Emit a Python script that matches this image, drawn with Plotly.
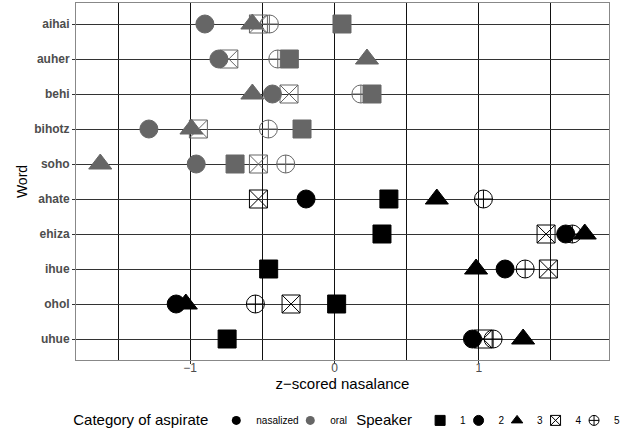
import plotly.graph_objects as go

words = ["aihai", "auher", "behi", "bihotz", "soho", "ahate", "ehiza", "ihue", "ohol", "uhue"]
category = ["oral"] * 5 + ["nasalized"] * 5
speaker1 = [0.052, -0.313, 0.260, -0.225, -0.689, 0.377, 0.329, -0.456, 0.015, -0.744]
speaker2 = [-0.898, -0.801, -0.430, -1.286, -0.958, -0.197, 1.602, 1.182, -1.097, 0.956]
speaker3 = [-0.569, 0.225, -0.569, -0.991, -1.623, 0.709, 1.734, 0.981, -1.030, 1.307]
speaker4 = [-0.527, -0.732, -0.315, -0.943, -0.527, -0.527, 1.466, 1.482, -0.301, 1.030]
speaker5 = [-0.451, -0.393, 0.183, -0.458, -0.338, 1.032, 1.648, 1.321, -0.548, 1.099]
speakers = ["1", "2", "3", "4", "5"]
categories = ["nasalized", "oral"]

cat_colors = {"nasalized": "#000000", "oral": "#666666"}
symbols = {"1": "square", "2": "circle", "3": "triangle-up", "4": "square-x-open", "5": "circle-cross-open"}
sizes = {"1": 18, "2": 18, "3": 20, "4": 18, "5": 18}
values = {"1": speaker1, "2": speaker2, "3": speaker3, "4": speaker4, "5": speaker5}

colors = [cat_colors[c] for c in category]

fig = go.Figure()
for sp in ["4", "5", "1", "2", "3"]:
    fig.add_trace(go.Scatter(
        x=values[sp], y=words, mode="markers", showlegend=False,
        marker=dict(symbol=symbols[sp], size=sizes[sp], color=colors,
                    line=dict(width=1, color=colors)),
        hoverinfo="x+y",
    ))

# legend entries (entry widths as fractions of the legend's available width)
cat_widths = {"nasalized": 0.1215, "oral": 0.12}
spk_widths = {"1": 0.0722, "2": 0.0722, "3": 0.0722, "4": 0.0722, "5": 0.12}
for c in categories:
    fig.add_trace(go.Scatter(
        x=[None], y=[None], mode="markers", name=c, legend="legend",
        legendwidth=cat_widths[c],
        marker=dict(symbol="circle", size=9, color=cat_colors[c]),
    ))
for sp in speakers:
    fig.add_trace(go.Scatter(
        x=[None], y=[None], mode="markers", name=sp, legend="legend2",
        legendwidth=spk_widths[sp],
        marker=dict(symbol=symbols[sp], size=10, color="#000000",
                    line=dict(width=1, color="#000000")),
    ))

font = "Liberation Sans, Arial, sans-serif"
fig.update_layout(
    width=621, height=432,
    margin=dict(l=76, r=12, t=3, b=72, autoexpand=False),
    plot_bgcolor="white", paper_bgcolor="white",
    font=dict(family=font, color="#000000"),
    xaxis=dict(
        range=[-1.791, 1.902], tickvals=[-1, 0, 1], ticktext=["\u22121", "0", "1"],
        showgrid=True, gridcolor="#111111", gridwidth=1,
        minor=dict(tickvals=[-1.5, -0.5, 0.5, 1.5], showgrid=True, gridcolor="#111111", gridwidth=1),
        zeroline=False, showline=True, linecolor="#888888", linewidth=1, mirror=True,
        ticks="outside", ticklen=3, tickcolor="#333333", ticklabelstandoff=-6,
        tickfont=dict(size=12, color="#4D4D4D"),
        title=dict(text="z\u2212scored nasalance", font=dict(size=15, color="#000000"), standoff=2),
    ),
    yaxis=dict(
        type="category", categoryorder="array", categoryarray=words,
        range=[9.6, -0.6],
        showgrid=True, gridcolor="#333333", gridwidth=1,
        zeroline=False, showline=True, linecolor="#888888", linewidth=1, mirror=True,
        ticks="outside", ticklen=3, tickcolor="#333333",
        tickfont=dict(size=12, color="#4D4D4D", weight="bold"),
        title=dict(text="Word", font=dict(size=14, color="#000000"), standoff=3),
    ),
    legend=dict(
        orientation="h", x=-0.009, xanchor="left", y=-0.1706, yanchor="middle",
        entrywidthmode="fraction", entrywidth=0.1215,
        title=dict(text="Category of aspirate", side="left", font=dict(size=15, color="#000000")),
        font=dict(size=10, color="#000000"), itemwidth=30, tracegroupgap=0,
        bgcolor="rgba(0,0,0,0)",
    ),
    legend2=dict(
        orientation="h", x=0.522, xanchor="left", y=-0.1706, yanchor="middle",
        entrywidthmode="fraction", entrywidth=0.0722,
        title=dict(text="Speaker", side="left", font=dict(size=15, color="#000000")),
        font=dict(size=10, color="#000000"), itemwidth=30, tracegroupgap=0,
        bgcolor="rgba(0,0,0,0)",
    ),
)

fig.write_html("out.html", config={"displayModeBar": False},
               post_script="document.body.style.margin='0';document.body.style.padding='0';")
